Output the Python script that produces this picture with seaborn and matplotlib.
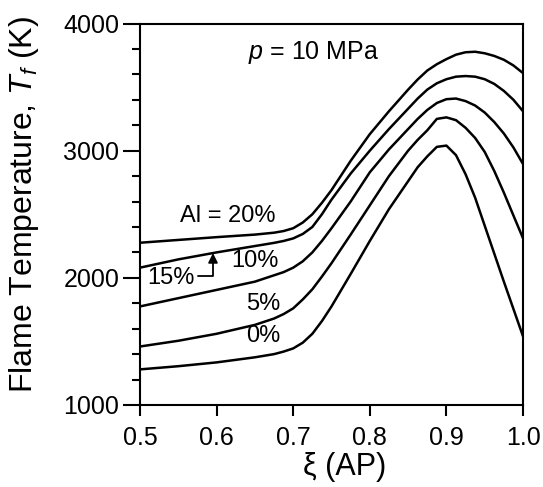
import matplotlib
matplotlib.use("Agg")
import matplotlib.pyplot as plt
from matplotlib.ticker import MultipleLocator
import pandas as pd
import seaborn as sns

# Values
xi = [0.5, 0.55, 0.6, 0.65, 0.675, 0.6875, 0.7, 0.7125, 0.725, 0.7375,
      0.75, 0.775, 0.8, 0.825, 0.85, 0.8625, 0.875, 0.8875, 0.9, 0.9125,
      0.925, 0.9375, 0.95, 0.9625, 0.975, 0.9875, 1.0]
t_al20 = [2276, 2298, 2320, 2340, 2355, 2368, 2390, 2435, 2500, 2590,
          2690, 2920, 3130, 3310, 3480, 3560, 3630, 3680, 3720, 3755,
          3774, 3778, 3766, 3745, 3715, 3670, 3610]
t_al15 = [2080, 2145, 2200, 2250, 2275, 2290, 2310, 2345, 2400, 2500,
          2615, 2820, 3000, 3170, 3330, 3410, 3480, 3530, 3562, 3582,
          3587, 3582, 3562, 3525, 3470, 3400, 3310]
t_al10 = [1775, 1840, 1905, 1970, 2020, 2045, 2080, 2130, 2200, 2290,
          2390, 2600, 2830, 3010, 3170, 3250, 3320, 3375, 3405, 3410,
          3390, 3355, 3300, 3225, 3135, 3025, 2895]
t_al5 = [1460, 1505, 1560, 1630, 1680, 1715, 1760, 1830, 1910, 2010,
         2115, 2340, 2570, 2800, 3000, 3085, 3160, 3250, 3262, 3240,
         3180, 3100, 2990, 2840, 2670, 2490, 2311]
t_al0 = [1280, 1305, 1335, 1375, 1400, 1420, 1445, 1490, 1560, 1660,
         1775, 2030, 2290, 2540, 2760, 2870, 2955, 3030, 3040, 2965,
         2815, 2630, 2410, 2190, 1970, 1755, 1540]

series = {"20%": t_al20, "15%": t_al15, "10%": t_al10, "5%": t_al5, "0%": t_al0}

# Curve labels: (text, x, T)
curve_labels = [
    ("Al = 20%", 0.615, 2486),
    ("10%", 0.650, 2132),
    ("15%", 0.541, 1995),
    ("5%", 0.661, 1798),
    ("0%", 0.661, 1539),
]

rows = []
for al, temps in series.items():
    for x, t in zip(xi, temps):
        rows.append({"xi": x, "T": t, "Al": al})
df = pd.DataFrame(rows)

sns.set_theme(style="ticks")
plt.rcParams["font.family"] = ["Liberation Sans", "DejaVu Sans"]
plt.rcParams["mathtext.fontset"] = "custom"
plt.rcParams["mathtext.rm"] = "Liberation Sans"
plt.rcParams["mathtext.it"] = "Liberation Sans:italic"

fig = plt.figure(figsize=(5.43, 4.87), dpi=100)
ax = fig.add_axes([0.2578, 0.1684, 0.7054, 0.7833])

sns.lineplot(data=df, x="xi", y="T", hue="Al",
             palette=["black"] * 5, linewidth=1.8, legend=False, ax=ax)

ax.set_xlim(0.5, 1.0)
ax.set_ylim(1000, 4000)
ax.set_xticks([0.5, 0.6, 0.7, 0.8, 0.9, 1.0])
ax.set_xticklabels(["0.5", "0.6", "0.7", "0.8", "0.9", "1.0"])
ax.set_yticks([1000, 2000, 3000, 4000])
ax.yaxis.set_minor_locator(MultipleLocator(200))

for side in ["left", "right", "top", "bottom"]:
    ax.spines[side].set_visible(True)
    ax.spines[side].set_linewidth(1.5)
    ax.spines[side].set_color("black")

ax.tick_params(axis="y", which="major", direction="out", length=12, width=1.5,
               labelsize=18, pad=3, colors="black")
ax.tick_params(axis="y", which="minor", direction="out", length=6, width=1.5,
               colors="black")
ax.tick_params(axis="x", which="major", direction="out", length=8, width=1.5,
               labelsize=18, pad=7, colors="black")

ax.set_xlabel("ξ (AP)", fontsize=22, color="black")
ax.xaxis.set_label_coords(0.533, -0.123)
ax.set_ylabel(r"Flame Temperature, $\mathit{T}_{\mathit{f}}$ (K)", fontsize=23,
              color="black")
ax.yaxis.set_label_coords(-0.258, 0.525)

ax.text(0.726, 3776, r"$p$ = 10 MPa", fontsize=18, ha="center", va="center",
        color="black")
for txt, x, t in curve_labels:
    ax.text(x, t, txt, fontsize=17, ha="center", va="center", color="black")

ax.annotate("", xy=(0.5953, 2195), xytext=(0.5757, 2014),
            arrowprops=dict(arrowstyle="-|>", color="black", lw=1.3,
                            connectionstyle="angle,angleA=0,angleB=90,rad=0",
                            shrinkA=0, shrinkB=0, mutation_scale=14))

fig.savefig("out.png", dpi=100)
